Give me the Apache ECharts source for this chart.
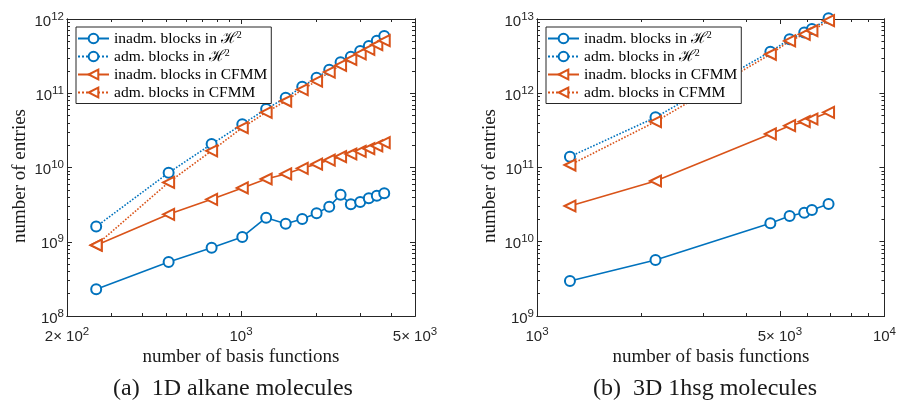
<!DOCTYPE html>
<html>
<head>
<meta charset="utf-8">
<script src="https://cdn.jsdelivr.net/npm/echarts@6/dist/echarts.min.js"></script>
<style>
  html, body { margin: 0; padding: 0; background: #fff; }
  #chart { width: 899px; height: 400px; }
</style>
</head>
<body>
<div id="chart"></div>
<script>
// ---- (a) 1D alkane molecules ----
const alkaneBasis      = [262, 512, 762, 1012, 1262, 1512, 1762, 2012, 2262, 2512, 2762, 3012, 3262, 3512, 3762];
const alkaneInadmH2    = [2.29e8, 5.34e8, 8.3e8, 1.16e9, 2.11e9, 1.75e9, 2.02e9, 2.42e9, 2.97e9, 4.3e9, 3.19e9, 3.43e9, 3.85e9, 4.17e9, 4.5e9];
const alkaneAdmH2      = [1.6e9, 8.5e9, 2.07e10, 3.82e10, 6.14e10, 8.7e10, 1.22e11, 1.62e11, 2.07e11, 2.61e11, 3.11e11, 3.7e11, 4.33e11, 5.1e11, 5.9e11];
const alkaneInadmCFMM  = [9.0e8, 2.34e9, 3.73e9, 5.3e9, 7.0e9, 8.2e9, 9.75e9, 1.11e10, 1.26e10, 1.4e10, 1.52e10, 1.65e10, 1.79e10, 1.95e10, 2.16e10];
const alkaneAdmCFMM    = [9.0e8, 6.3e9, 1.68e10, 3.44e10, 5.53e10, 7.86e10, 1.12e11, 1.46e11, 1.93e11, 2.38e11, 2.85e11, 3.4e11, 3.9e11, 4.5e11, 5.1e11];

// ---- (b) 3D 1hsg molecules ----
const hsgBasis         = [1244, 2193, 4695, 5334, 5877, 6184, 6904];
const hsgInadmH2       = [2.96e9, 5.68e9, 1.77e10, 2.22e10, 2.46e10, 2.68e10, 3.22e10];
const hsgAdmH2         = [1.4e11, 4.74e11, 3.63e12, 5.33e12, 6.6e12, 7.33e12, 1.02e13];
const hsgInadmCFMM     = [3.03e10, 6.58e10, 2.83e11, 3.66e11, 4.14e11, 4.5e11, 5.54e11];
const hsgAdmCFMM       = [1.08e11, 4.14e11, 3.35e12, 5.06e12, 6.22e12, 6.95e12, 9.5e12];

const seriesNames = ['inadm. blocks in ℋ²', 'adm. blocks in ℋ²', 'inadm. blocks in CFMM', 'adm. blocks in CFMM'];

// axis ranges and labelled ticks
const alkaneXRange = [200, 5000];
const alkaneYRange = [1e8, 1e12];
const alkaneXTicks = [200, 1000, 5000];
const alkaneXTickLabels = ['2× 10^2', '10^3', '5× 10^3'];
const alkaneYTicks = [1e8, 1e9, 1e10, 1e11, 1e12];
const alkaneYTickLabels = ['10^8', '10^9', '10^10', '10^11', '10^12'];

const hsgXRange = [1000, 10000];
const hsgYRange = [1e9, 1e13];
const hsgXTicks = [1000, 5000, 10000];
const hsgXTickLabels = ['10^3', '5× 10^3', '10^4'];
const hsgYTicks = [1e9, 1e10, 1e11, 1e12, 1e13];
const hsgYTickLabels = ['10^9', '10^10', '10^11', '10^12', '10^13'];

const xAxisTitle = 'number of basis functions';
const yAxisTitle = 'number of entries';
const captions = ['(a)  1D alkane molecules', '(b)  3D 1hsg molecules'];

const BLUE = '#0072BD';
const ORANGE = '#D95319';
const AXIS_COLOR = '#262626';
const SERIF = '"Liberation Serif", "Times New Roman", serif';
const SANS = '"Liberation Sans", Arial, sans-serif';

// logarithmic minor tick positions (2..9 × 10^k) inside a range, skipping labelled ones
function minorValues(range, majors) {
  const out = [];
  for (let k = Math.floor(Math.log10(range[0])); k <= Math.ceil(Math.log10(range[1])); k++) {
    for (let m = 2; m <= 9; m++) {
      const v = m * Math.pow(10, k);
      if (v > range[0] && v < range[1] && majors.indexOf(v) < 0) out.push(v);
    }
  }
  return out;
}

// "a^b" -> base text with superscript exponent
function supText(s) {
  const i = s.indexOf('^');
  return '{b|' + s.slice(0, i) + '}{e|' + s.slice(i + 1) + '}';
}

function tickFormatter(ticks, labels) {
  return function (v) {
    const k = ticks.findIndex(t => Math.abs(Math.log10(t) - Math.log10(v)) < 1e-6);
    return k < 0 ? '' : supText(labels[k]);
  };
}

const labelRich = {
  b: { fontFamily: SANS, fontSize: 15, color: AXIS_COLOR, padding: [5, 0, 0, 0] },
  e: { fontFamily: SANS, fontSize: 11.5, color: AXIS_COLOR, padding: [0, 0, 5, 0] }
};

function makeAxis(gridIndex, range, position, tickValues, tickLen, label) {
  const ax = {
    type: 'log', logBase: 10, gridIndex: gridIndex, position: position,
    min: range[0], max: range[1],
    axisLine: { show: true, onZero: false, lineStyle: { color: AXIS_COLOR, width: 1 } },
    axisTick: { show: true, inside: true, length: tickLen, customValues: tickValues,
                lineStyle: { color: AXIS_COLOR, width: 1 } },
    axisLabel: { show: false },
    splitLine: { show: false },
    minorTick: { show: false },
    minorSplitLine: { show: false }
  };
  if (label) {
    ax.axisLabel = {
      show: true, customValues: label.ticks, margin: label.margin,
      formatter: tickFormatter(label.ticks, label.labels), rich: labelRich
    };
  }
  return ax;
}

const xAxes = [];
const yAxes = [];
function buildAxes(gridIndex, xr, yr, xt, xl, yt, yl) {
  const xm = minorValues(xr, xt), ym = minorValues(yr, yt);
  const xi = xAxes.length, yi = yAxes.length;
  xAxes.push(makeAxis(gridIndex, xr, 'bottom', xt, 5, { ticks: xt, labels: xl, margin: 8 }));
  xAxes.push(makeAxis(gridIndex, xr, 'bottom', xm, 3));
  xAxes.push(makeAxis(gridIndex, xr, 'top', xt, 5));
  xAxes.push(makeAxis(gridIndex, xr, 'top', xm, 3));
  yAxes.push(makeAxis(gridIndex, yr, 'left', yt, 5, { ticks: yt, labels: yl, margin: 3 }));
  yAxes.push(makeAxis(gridIndex, yr, 'left', ym, 3));
  yAxes.push(makeAxis(gridIndex, yr, 'right', yt, 5));
  yAxes.push(makeAxis(gridIndex, yr, 'right', ym, 3));
  return { xi: xi, yi: yi };
}

const axA = buildAxes(0, alkaneXRange, alkaneYRange, alkaneXTicks, alkaneXTickLabels, alkaneYTicks, alkaneYTickLabels);
const axB = buildAxes(1, hsgXRange, hsgYRange, hsgXTicks, hsgXTickLabels, hsgYTicks, hsgYTickLabels);

function pairs(xs, ys) { return xs.map((x, i) => [x, ys[i]]); }

function lineSeries(name, ax, xs, ys, color, dotted, marker) {
  return {
    type: 'line', name: name,
    xAxisIndex: ax.xi, yAxisIndex: ax.yi,
    data: pairs(xs, ys),
    clip: false,
    symbol: marker === 'circle' ? 'emptyCircle' : 'emptyTriangle',
    symbolSize: marker === 'circle' ? 10 : 11,
    symbolRotate: marker === 'circle' ? 0 : 90,
    color: color,
    itemStyle: { color: color, borderColor: color, borderWidth: 1.6 },
    lineStyle: { color: color, width: 1.6, type: dotted ? 'dotted' : 'solid' },
    emphasis: { disabled: true },
    animation: false
  };
}

const series = [
  lineSeries(seriesNames[0], axA, alkaneBasis, alkaneInadmH2, BLUE, false, 'circle'),
  lineSeries(seriesNames[1], axA, alkaneBasis, alkaneAdmH2, BLUE, true, 'circle'),
  lineSeries(seriesNames[2], axA, alkaneBasis, alkaneInadmCFMM, ORANGE, false, 'triangle'),
  lineSeries(seriesNames[3], axA, alkaneBasis, alkaneAdmCFMM, ORANGE, true, 'triangle'),
  lineSeries(seriesNames[0], axB, hsgBasis, hsgInadmH2, BLUE, false, 'circle'),
  lineSeries(seriesNames[1], axB, hsgBasis, hsgAdmH2, BLUE, true, 'circle'),
  lineSeries(seriesNames[2], axB, hsgBasis, hsgInadmCFMM, ORANGE, false, 'triangle'),
  lineSeries(seriesNames[3], axB, hsgBasis, hsgAdmCFMM, ORANGE, true, 'triangle')
];

function legendAt(left) {
  return {
    data: seriesNames, orient: 'vertical', left: left, top: 27,
    backgroundColor: '#fff', borderColor: AXIS_COLOR, borderWidth: 1,
    padding: [3.5, 4, 3, 1], itemWidth: 31, itemHeight: 12, itemGap: 2,
    selectedMode: false,
    textStyle: {
      fontFamily: SERIF, fontSize: 15.5, color: '#000', lineHeight: 14,
      rich: {
        h: { fontFamily: SERIF, fontSize: 15.5, lineHeight: 14, color: '#000' },
        s: { fontFamily: SERIF, fontSize: 10, lineHeight: 8, padding: [0, 0, 6, 0], color: '#000' }
      }
    },
    formatter: function (name) { return name.replace('ℋ²', '{h|ℋ}{s|2}'); }
  };
}

const grids = [
  { left: 67, top: 19, width: 348, height: 297 },
  { left: 537, top: 19, width: 348, height: 297 }
];

function textEl(x, y, text, size, rotate) {
  return {
    type: 'text', x: x, y: y, rotation: rotate || 0,
    style: { text: text, fontFamily: SERIF, fontSize: size, fill: '#1a1a1a', align: 'center', verticalAlign: 'middle' },
    silent: true
  };
}

const chart = echarts.init(document.getElementById('chart'), null, { renderer: 'canvas' });
chart.setOption({
  animation: false,
  backgroundColor: '#fff',
  grid: grids,
  xAxis: xAxes,
  yAxis: yAxes,
  legend: [legendAt(76), legendAt(546)],
  series: series,
  graphic: [
    textEl(241, 357, xAxisTitle, 19),
    textEl(711, 357, xAxisTitle, 19),
    textEl(20, 176, yAxisTitle, 19, Math.PI / 2),
    textEl(490, 176, yAxisTitle, 19, Math.PI / 2),
    textEl(233, 389, captions[0], 24),
    textEl(705, 389, captions[1], 24)
  ]
});
</script>
</body>
</html>
